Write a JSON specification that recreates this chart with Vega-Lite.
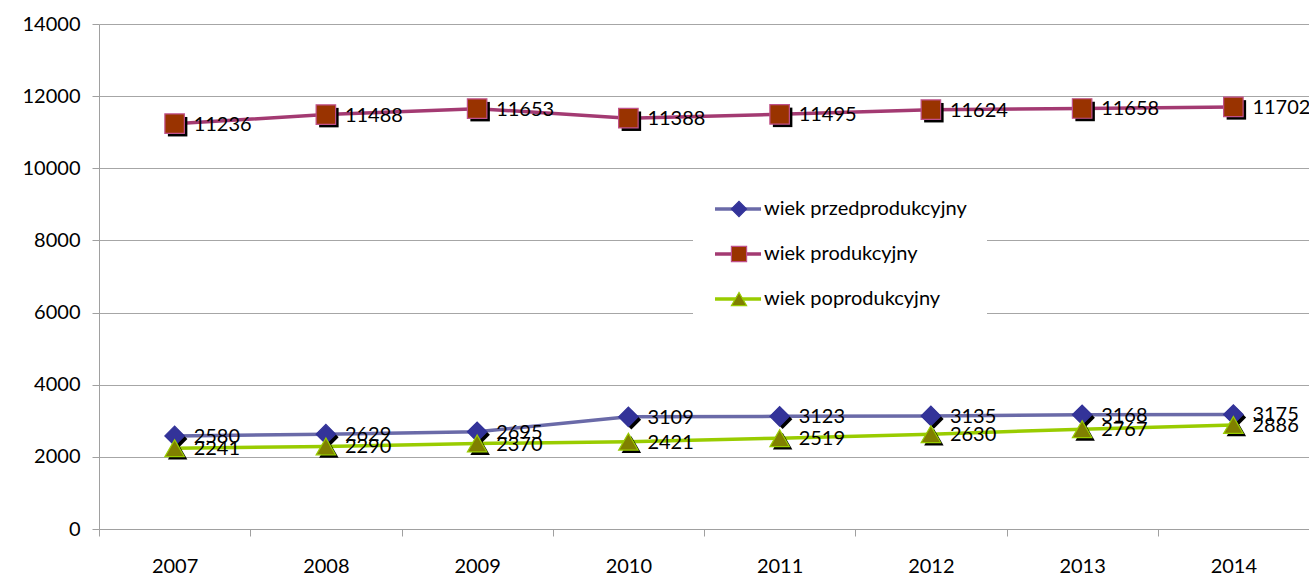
{
  "$schema": "https://vega.github.io/schema/vega-lite/v6.json",
  "width": 1210,
  "height": 505,
  "autosize": {"type": "none"},
  "padding": {"left": 99, "top": 24, "right": 0, "bottom": 49},
  "background": "white",
  "config": {
    "view": {"stroke": null},
    "font": "Lato",
    "axis": {"labelFont": "Lato", "labelFontSize": 20, "labelColor": "#000000", "domainColor": "#A0A0A0", "tickColor": "#A0A0A0", "gridColor": "#A6A6A6", "tickSize": 7, "title": null}
  },
  "data": {"values": [
    {"year": "2007", "series": "wiek przedprodukcyjny", "value": 2580},
    {"year": "2008", "series": "wiek przedprodukcyjny", "value": 2629},
    {"year": "2009", "series": "wiek przedprodukcyjny", "value": 2695},
    {"year": "2010", "series": "wiek przedprodukcyjny", "value": 3109},
    {"year": "2011", "series": "wiek przedprodukcyjny", "value": 3123},
    {"year": "2012", "series": "wiek przedprodukcyjny", "value": 3135},
    {"year": "2013", "series": "wiek przedprodukcyjny", "value": 3168},
    {"year": "2014", "series": "wiek przedprodukcyjny", "value": 3175},
    {"year": "2007", "series": "wiek produkcyjny", "value": 11236},
    {"year": "2008", "series": "wiek produkcyjny", "value": 11488},
    {"year": "2009", "series": "wiek produkcyjny", "value": 11653},
    {"year": "2010", "series": "wiek produkcyjny", "value": 11388},
    {"year": "2011", "series": "wiek produkcyjny", "value": 11495},
    {"year": "2012", "series": "wiek produkcyjny", "value": 11624},
    {"year": "2013", "series": "wiek produkcyjny", "value": 11658},
    {"year": "2014", "series": "wiek produkcyjny", "value": 11702},
    {"year": "2007", "series": "wiek poprodukcyjny", "value": 2241},
    {"year": "2008", "series": "wiek poprodukcyjny", "value": 2290},
    {"year": "2009", "series": "wiek poprodukcyjny", "value": 2370},
    {"year": "2010", "series": "wiek poprodukcyjny", "value": 2421},
    {"year": "2011", "series": "wiek poprodukcyjny", "value": 2519},
    {"year": "2012", "series": "wiek poprodukcyjny", "value": 2630},
    {"year": "2013", "series": "wiek poprodukcyjny", "value": 2767},
    {"year": "2014", "series": "wiek poprodukcyjny", "value": 2886}
  ]},
  "encoding": {
    "x": {"field": "year", "type": "ordinal", "scale": {"paddingInner": 0, "paddingOuter": 0},
          "axis": {"labelAngle": 0, "tickBand": "extent", "grid": false, "labelPadding": 20, "domainWidth": 1}},
    "y": {"field": "value", "type": "quantitative", "scale": {"domain": [0, 14000], "nice": false},
          "axis": {"values": [0, 2000, 4000, 6000, 8000, 10000, 12000, 14000], "grid": true, "labelPadding": 12, "format": "d"}}
  },
  "resolve": {
    "scale": {"shape": "independent", "fill": "independent", "stroke": "independent"},
    "legend": {"shape": "independent", "fill": "independent", "stroke": "independent"}
  },
  "layer": [
    {
      "mark": {"type": "line", "strokeWidth": 3.5},
      "encoding": {
        "color": {"field": "series", "type": "nominal",
          "scale": {"domain": ["wiek przedprodukcyjny", "wiek produkcyjny", "wiek poprodukcyjny"], "range": ["#6A6AA8", "#A33A72", "#99CC00"]},
          "legend": {"orient": "none", "legendX": 594, "legendY": 155, "title": null, "symbolType": "stroke", "symbolSize": 2116, "symbolStrokeWidth": 3.5, "fillColor": "white", "padding": 20, "clipHeight": 20, "rowPadding": 25, "labelFont": "Lato", "labelFontSize": 20, "labelColor": "#000000", "labelOffset": 1, "labelLimit": 400}}
      }
    },
    {
      "mark": {"type": "point", "filled": true, "size": 380, "xOffset": 3, "yOffset": 3, "opacity": 1, "color": "#000000"},
      "encoding": {
        "shape": {"field": "series", "type": "nominal", "sort": "descending",
          "scale": {"range": ["diamond", "square", "triangle-up"]}, "legend": null}
      }
    },
    {
      "mark": {"type": "point", "filled": true, "size": 380, "opacity": 1, "strokeWidth": 1.2},
      "encoding": {
        "shape": {"field": "series", "type": "nominal", "sort": "descending",
          "scale": {"range": ["diamond", "square", "triangle-up"]},
          "legend": {"orient": "none", "legendX": 630, "legendY": 175, "title": null, "symbolSize": 230, "symbolStrokeWidth": 1.2, "padding": 0, "clipHeight": 20, "rowPadding": 25, "labelFont": "Lato", "labelFontSize": 20, "labelExpr": "''", "labelOffset": 1, "labelLimit": 400}},
        "fill": {"field": "series", "type": "nominal", "sort": "descending",
          "scale": {"range": ["#333399", "#993300", "#808000"]}},
        "stroke": {"field": "series", "type": "nominal", "sort": "descending",
          "scale": {"range": ["#333399", "#C0508A", "#99CC00"]}}
      }
    },
    {
      "mark": {"type": "text", "align": "left", "baseline": "middle", "dx": 19, "dy": 1, "font": "Lato", "fontSize": 20, "color": "#000000"},
      "encoding": {"text": {"field": "value", "type": "quantitative", "format": "d"}}
    }
  ]
}
